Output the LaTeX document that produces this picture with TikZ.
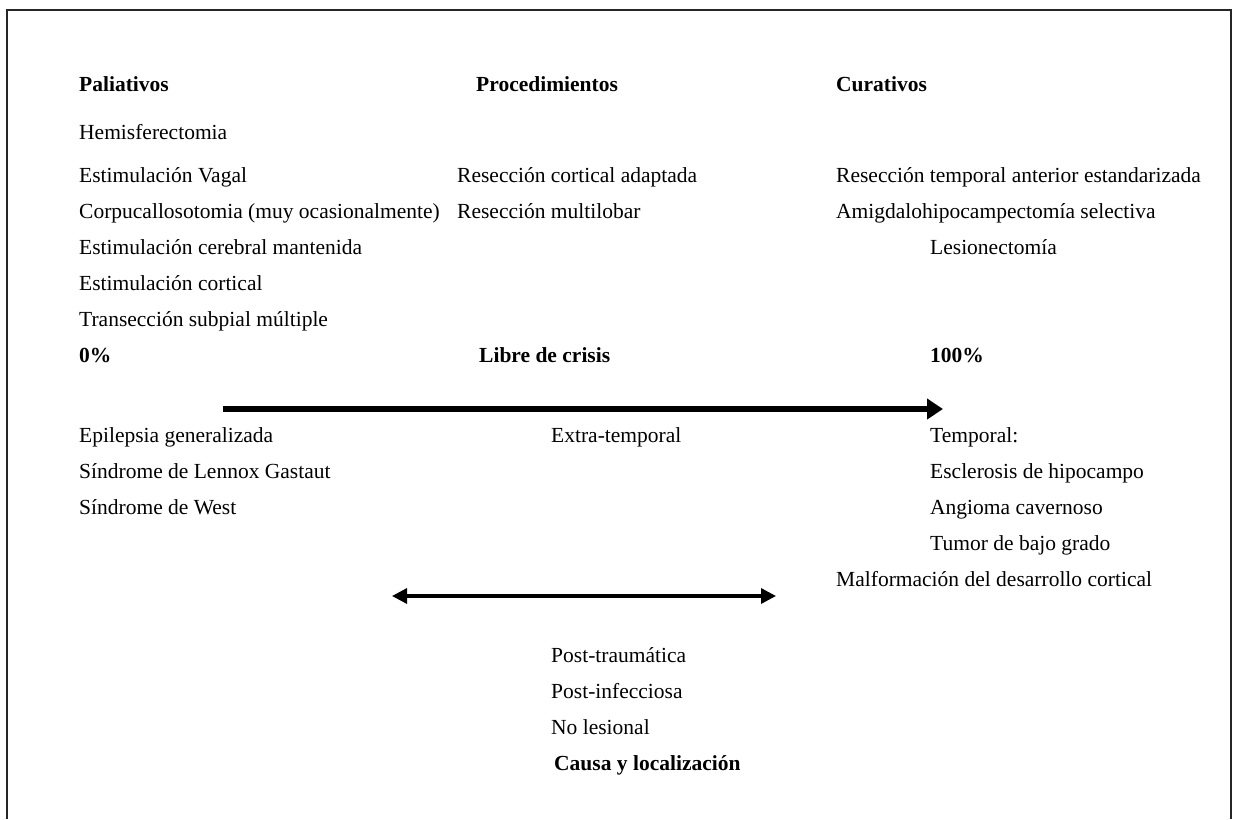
\documentclass[tikz,border=0pt]{standalone}
\usepackage{fontspec}
\setmainfont{Liberation Serif}
\usetikzlibrary{arrows.meta}
\begin{document}
\begin{tikzpicture}[x=1pt,y=-1pt,
  txt/.style={anchor=base west,inner sep=0pt,font=\fontsize{21.5}{25}\selectfont},
  hdr/.style={txt,font=\fontsize{21.5}{25}\selectfont\bfseries},
  frameline/.style={line width=2pt,black!85},
  bigarrow/.style={line width=6.5pt,-{Triangle[length=16pt,width=20pt]}},
  dblarrow/.style={line width=3.3pt,{Triangle[length=15pt,width=15pt]}-{Triangle[length=15pt,width=15pt]}}]
\useasboundingbox (0,0) rectangle (1233,819);
% frame (open at bottom)
\coordinate (f1) at (7,819);
\coordinate (f2) at (7,10);
\coordinate (f3) at (1231,10);
\coordinate (f4) at (1231,819);
\draw[frameline] (f1) -- (f2) -- (f3) -- (f4);
% headers
\node[hdr] (pal) at (79,91) {Paliativos};
\node[hdr] (proc) at (476,91) {Procedimientos};
\node[hdr] (cur) at (836,91) {Curativos};
% left column
\node[txt] (l1) at (79,139) {Hemisferectomia};
\node[txt] (l2) at (79,182) {Estimulación Vagal};
\node[txt] (l3) at (79,218) {Corpucallosotomia (muy ocasionalmente)};
\node[txt] (l4) at (79,254) {Estimulación cerebral mantenida};
\node[txt] (l5) at (79,290) {Estimulación cortical};
\node[txt] (l6) at (79,326) {Transección subpial múltiple};
% middle column
\node[txt] (m1) at (457,182) {Resección cortical adaptada};
\node[txt] (m2) at (457,218) {Resección multilobar};
% right column
\node[txt] (r1) at (836,182) {Resección temporal anterior estandarizada};
\node[txt] (r2) at (836,218) {Amigdalohipocampectomía selectiva};
\node[txt] (r3) at (930,254) {Lesionectomía};
% scale labels
\node[hdr] (p0) at (79,362) {0\%};
\node[hdr] (libre) at (479,362) {Libre de crisis};
\node[hdr] (p100) at (930,362) {100\%};
% big arrow
\coordinate (a1) at (223,409);
\coordinate (a2) at (943,409);
\draw[bigarrow] (a1) -- (a2);
% lower left
\node[txt] (b1) at (79,442) {Epilepsia generalizada};
\node[txt] (b2) at (79,478) {Síndrome de Lennox Gastaut};
\node[txt] (b3) at (79,514) {Síndrome de West};
% lower middle
\node[txt] (c1) at (551,442) {Extra-temporal};
% lower right
\node[txt] (d1) at (930,442) {Temporal:};
\node[txt] (d2) at (930,478) {Esclerosis de hipocampo};
\node[txt] (d3) at (930,514) {Angioma cavernoso};
\node[txt] (d4) at (930,550) {Tumor de bajo grado};
\node[txt] (d5) at (836,586) {Malformación del desarrollo cortical};
% double arrow
\coordinate (e1) at (392,596);
\coordinate (e2) at (776,596);
\draw[dblarrow] (e1) -- (e2);
% bottom block
\node[txt] (g1) at (551,662) {Post-traumática};
\node[txt] (g2) at (551,698) {Post-infecciosa};
\node[txt] (g3) at (551,734) {No lesional};
\node[hdr] (g4) at (554,770) {Causa y localización};
\end{tikzpicture}
\end{document}
